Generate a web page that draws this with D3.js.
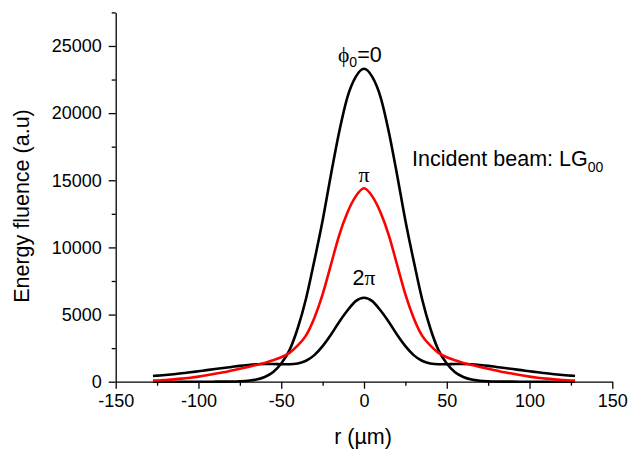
<!DOCTYPE html>
<html>
<head>
<meta charset="utf-8">
<script src="https://cdn.jsdelivr.net/npm/d3@7"></script>
<style>
  html, body { margin: 0; padding: 0; background: #fff; }
  svg { display: block; font-family: Arial, "Liberation Sans", sans-serif; }
</style>
</head>
<body>
<svg id="chart" width="628" height="451"></svg>
<script>
// Radial positions (µm)
const radius = [-127.5, -125, -120, -115, -110, -105, -100, -95, -90, -85, -80, -75, -70, -65, -60, -55, -50, -45, -40, -35, -30, -25, -20, -15, -10, -5,
  0, 5, 10, 15, 20, 25, 30, 35, 40, 45, 50, 55, 60, 65, 70, 75, 80, 85, 90, 95, 100, 105, 110, 115, 120, 125, 127.5];

// Energy fluence for the three phases
const fluencePhase0 = [0, 0, 0, 0, 0, 0, 0, 0, 2, 5, 12, 30, 70, 160, 350, 700, 1350, 2350, 4000, 6200, 9000, 12000, 15400, 18600, 21200, 22700,
  23300, 22700, 21200, 18600, 15400, 12000, 9000, 6200, 4000, 2350, 1350, 700, 350, 160, 70, 30, 12, 5, 2, 0, 0, 0, 0, 0, 0, 0, 0];
const fluencePhasePi = [80, 95, 130, 175, 230, 300, 380, 480, 590, 700, 830, 960, 1100, 1250, 1400, 1600, 1820, 2150, 2700, 3450, 4750, 6500, 8700, 10900, 12600, 13800,
  14400, 13800, 12600, 10900, 8700, 6500, 4750, 3450, 2700, 2150, 1820, 1600, 1400, 1250, 1100, 960, 830, 700, 590, 480, 380, 300, 230, 175, 130, 95, 80];
const fluencePhase2Pi = [425, 450, 500, 560, 630, 700, 780, 860, 940, 1020, 1100, 1180, 1240, 1290, 1320, 1320, 1300, 1300, 1360, 1560, 1980, 2650, 3500, 4450, 5300, 6000,
  6250, 6000, 5300, 4450, 3500, 2650, 1980, 1560, 1360, 1300, 1300, 1320, 1320, 1290, 1240, 1180, 1100, 1020, 940, 860, 780, 700, 630, 560, 500, 450, 425];

// Axis ticks
const xMajorTicks = [-150, -100, -50, 0, 50, 100, 150];
const xMinorTicks = [-125, -75, -25, 25, 75, 125];
const yMajorTicks = [0, 5000, 10000, 15000, 20000, 25000];
const yMinorTicks = [2500, 7500, 12500, 17500, 22500, 27500];

const svg = d3.select("#chart");

const x = d3.scaleLinear().domain([-150, 150]).range([115.7, 612.3]);
const y = d3.scaleLinear().domain([0, 27500]).range([381.7, 12.4]);

// Axes
function styleAxis(g) {
  g.selectAll("path.domain").attr("stroke", "#000").attr("stroke-width", 1.3);
  g.selectAll(".tick line").attr("stroke", "#000").attr("stroke-width", 1.3);
  g.selectAll(".tick text").attr("fill", "#000").style("font-size", "18px")
    .style("font-family", "Arial, 'Liberation Sans', sans-serif");
}

const xAxisG = svg.append("g").attr("transform", `translate(0,${y(0)})`)
  .call(d3.axisBottom(x).tickValues(xMajorTicks).tickSize(7).tickSizeOuter(0).tickPadding(6).tickFormat(d3.format("d")))
  .call(styleAxis);
svg.append("g").attr("transform", `translate(0,${y(0)})`)
  .call(d3.axisBottom(x).tickValues(xMinorTicks).tickSize(4).tickFormat(""))
  .call(g => g.select("path.domain").remove())
  .call(styleAxis);

const yAxisG = svg.append("g").attr("transform", `translate(${x(-150)},0)`)
  .call(d3.axisLeft(y).tickValues(yMajorTicks).tickSize(7).tickSizeOuter(0).tickPadding(7).tickFormat(d3.format("d")))
  .call(styleAxis);
svg.append("g").attr("transform", `translate(${x(-150)},0)`)
  .call(d3.axisLeft(y).tickValues(yMinorTicks).tickSize(4).tickFormat(""))
  .call(g => g.select("path.domain").remove())
  .call(styleAxis);

// Plain hyphen for negative tick labels
xAxisG.selectAll(".tick text").text(d => d < 0 ? "-" + Math.abs(d) : String(d));

// Curves
const line = d3.line()
  .x((d, i) => x(radius[i]))
  .y(d => y(d))
  .curve(d3.curveMonotoneX);

const series = [
  { values: fluencePhase2Pi, color: "#000000" },
  { values: fluencePhase0, color: "#000000" },
  { values: fluencePhasePi, color: "#ff0000" }
];

svg.append("g").selectAll("path")
  .data(series)
  .join("path")
  .attr("d", d => line(d.values))
  .attr("fill", "none")
  .attr("stroke", d => d.color)
  .attr("stroke-width", 2.6)
  .attr("stroke-linejoin", "round");

// Axis titles
svg.append("text")
  .attr("x", (x(-150) + x(150)) / 2 - 1)
  .attr("y", 444)
  .attr("text-anchor", "middle")
  .style("font-size", "21.5px")
  .text("r (µm)");

svg.append("text")
  .attr("transform", `translate(29,${(y(0) + y(27500)) / 2 + 9}) rotate(-90)`)
  .attr("text-anchor", "middle")
  .style("font-size", "21.5px")
  .text("Energy fluence (a.u)");

// Curve labels
const greek = "'Liberation Serif', 'DejaVu Serif', serif";

const lab0 = svg.append("text").attr("x", 338).attr("y", 62).style("font-size", "21.5px");
lab0.append("tspan").style("font-family", greek).text("ϕ");
lab0.append("tspan").attr("dy", 5).style("font-size", "14px").text("0");
lab0.append("tspan").attr("dy", -5).text("=0");

svg.append("text").attr("x", x(0)).attr("y", 182).attr("text-anchor", "middle")
  .style("font-size", "22px").style("font-family", greek).text("π");

const lab2 = svg.append("text").attr("x", x(0)).attr("y", 285).attr("text-anchor", "middle").style("font-size", "21.5px");
lab2.append("tspan").text("2");
lab2.append("tspan").style("font-family", greek).text("π");

const inc = svg.append("text").attr("x", 412).attr("y", 166).style("font-size", "21.5px");
inc.append("tspan").text("Incident beam: LG");
inc.append("tspan").attr("dy", 6).style("font-size", "14px").text("00");
</script>
</body>
</html>
